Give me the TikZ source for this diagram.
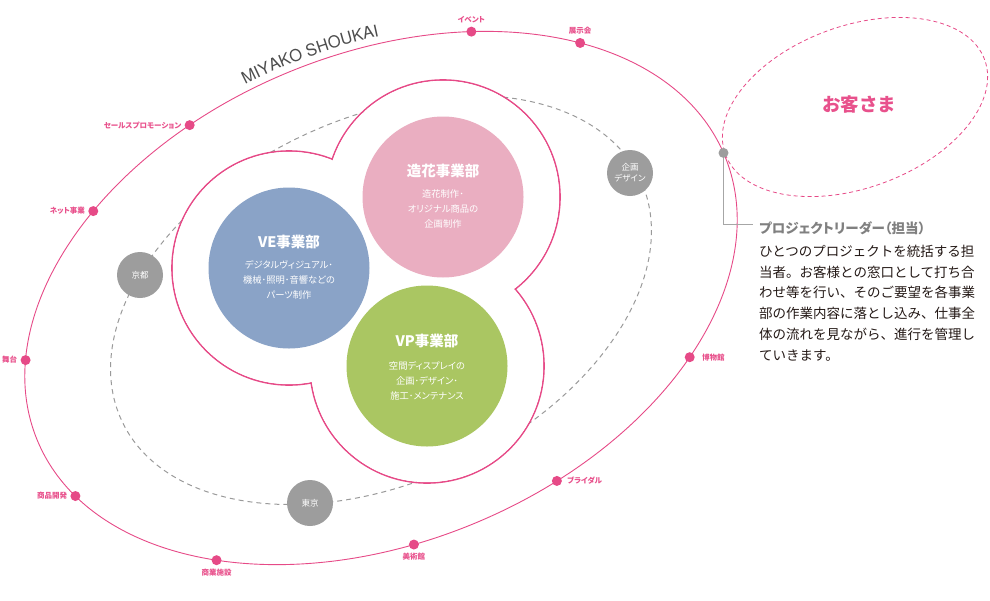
\documentclass[tikz,border=0pt]{standalone}
\usepackage{fontspec}
\newfontfamily\cjk{Noto Sans CJK JP}
\newfontfamily\cjkp[RawFeature=+palt]{Noto Sans CJK JP}
\newfontfamily\logofont{TeX Gyre Heros}
\usetikzlibrary{positioning,decorations.text}

\definecolor{mkpink}{HTML}{E64A87}
\definecolor{lblpink}{HTML}{E8518C}
\definecolor{veblue}{HTML}{8AA3C7}
\definecolor{zkpink}{HTML}{EAAEC1}
\definecolor{vpgreen}{HTML}{AAC662}
\definecolor{citygray}{HTML}{9D9D9D}
\definecolor{dashgray}{HTML}{9A9A9A}
\definecolor{leadgray}{HTML}{808080}
\definecolor{bodytext}{HTML}{231815}
\definecolor{logogray}{HTML}{4D4D4D}

\tikzset{
  dot/.style={circle,fill=mkpink,inner sep=0pt,minimum size=10pt},
  lbl/.style={text=lblpink,inner sep=0pt,font=\cjkp\bfseries\fontsize{7.5}{8}\selectfont},
  dept/.style={circle,inner sep=0pt,minimum size=161pt},
  dtitle/.style={text=white,inner sep=0pt,font=\cjk\bfseries\fontsize{14.5}{16}\selectfont},
  ddesc/.style={text=white,inner sep=0pt,align=center,font=\cjkp\fontsize{9.3}{15}\selectfont},
  city/.style={circle,fill=citygray,inner sep=0pt,minimum size=46pt,text=white,align=center,
    font=\cjkp\fontsize{8.5}{11}\selectfont}
}

\begin{document}
\begin{tikzpicture}[x=1pt,y=1pt]

        \useasboundingbox (0,0) rectangle (990,-600);

        % outer ring and customer
        \draw[mkpink,line width=0.9pt,rotate around={22.5:(381,-298)}]
          (381,-298) ellipse [x radius=372, y radius=244];
        \draw[mkpink,line width=0.8pt,dash pattern=on 4pt off 3pt,rotate around={20:(855,-107)}]
          (855,-107) ellipse [x radius=138, y radius=81];
        \node[text=lblpink,font=\cjk\bfseries\fontsize{18.5}{20}\selectfont] (kyaku) at (859,-104) {お客さま};

        % offices
        \draw[dashgray,line width=1pt,dash pattern=on 5pt off 4pt,rotate around={25:(381,-300)}]
          (381,-300) ellipse [x radius=286, y radius=182];

        \coordinate (cve) at (289,-268);
        \coordinate (czk) at (443,-197);
        \coordinate (cvp) at (427,-366);

        \foreach \c in {cve,czk,cvp}
          \draw[mkpink,line width=1.6pt] (\c) circle [radius=117];
        \foreach \c in {cve,czk,cvp}
          \fill[white] (\c) circle [radius=116.2];

        \node[dept,fill=veblue]  (ve) at (cve) {};
        \node[dept,fill=zkpink]  (zk) at (czk) {};
        \node[dept,fill=vpgreen] (vp) at (cvp) {};

        \node[dtitle] (vet) at ([yshift=26pt]ve.center) {VE事業部};
        \node[dtitle] (zkt) at ([yshift=26pt]zk.center) {造花事業部};
        \node[dtitle] (vpt) at ([yshift=25pt]vp.center) {VP事業部};
        \node[ddesc] (ved) at ([yshift=-12pt]ve.center) {デジタルヴィジュアル･\\機械･照明･音響などの\\パーツ制作};
        \node[ddesc] (zkd) at ([yshift=-12pt]zk.center) {造花制作･\\オリジナル商品の\\企画制作};
        \node[ddesc] (vpd) at ([yshift=-15pt]vp.center) {空間ディスプレイの\\企画･デザイン･\\施工･メンテナンス};

        \node[city] (kyoto)  at (140,-275) {京都};
        \node[city] (tokyo)  at (310,-503) {東京};
        \node[city] (kikaku) at (630,-173) {企画\\デザイン};

        % points on the ring
        \begin{scope}[shift={(381,-298)},rotate=22.5]
          \node[dot] (ev)  at (60.1:372 and 244)  {};
          \node[dot] (ten) at (40.8:372 and 244)  {};
          \node[dot] (sp)  at (107.3:372 and 244) {};
          \node[dot] (net) at (128.7:372 and 244) {};
          \node[dot] (bu)  at (161.2:372 and 244) {};
          \node[dot] (shk) at (195.7:372 and 244) {};
          \node[dot] (shs) at (227.3:372 and 244) {};
          \node[dot] (bij) at (260.1:372 and 244) {};
          \node[dot] (bri) at (284.4:372 and 244) {};
          \node[dot] (hak) at (314.9:372 and 244) {};
          \node[circle,fill=citygray,inner sep=0pt,minimum size=10pt] (lead) at (0.7:372 and 244) {};

          \path[decorate,decoration={text along path,text align=center,
            text={|\logofont\fontsize{16.5}{16.5}\selectfont\color{logogray}|MIYAKO SHOUKAI}}]
            (104.5:379 and 251) arc [start angle=104.5, end angle=66.9, x radius=379, y radius=251];
        \end{scope}

        \begin{scope}[every node/.style={lbl}]
          \node[above=3pt of ev]  (evl)  {イベント};
          \node[above=3pt of ten] (tenl) {展示会};
          \node[left=3pt of sp]   (spl)  {セールスプロモーション};
          \node[left=3pt of net]  (netl) {ネット事業};
          \node[left=3pt of bu]   (bul)  {舞台};
          \node[left=3pt of shk]  (shkl) {商品開発};
          \node[below=3pt of shs] (shsl) {商業施設};
          \node[below=3pt of bij] (bijl) {美術館};
          \node[right=5pt of bri] (bril) {ブライダル};
          \node[right=7pt of hak] (hakl) {博物館};
        \end{scope}

        % project leader
        \coordinate (leadend) at (753,-224);
        \draw[leadgray!70,line width=0.6pt] (lead) |- (leadend);
        \node[anchor=base west,inner sep=0pt,text=leadgray,font=\cjkp\bfseries\fontsize{13.5}{14}\selectfont]
          (ldtitle) at (759,-233) {プロジェクトリーダー（担当）};
        \node[anchor=north west,inner sep=0pt,align=left,text=bodytext,font=\cjk\fontsize{13.5}{20.7}\selectfont]
          (ldbody) at (759,-245) {ひとつのプロジェクトを統括する担\\当者。お客様との窓口として打ち合\\わせ等を行い、そのご要望を各事業\\部の作業内容に落とし込み、仕事全\\体の流れを見ながら、進行を管理し\\ていきます。};

      \end{tikzpicture}
\end{document}
